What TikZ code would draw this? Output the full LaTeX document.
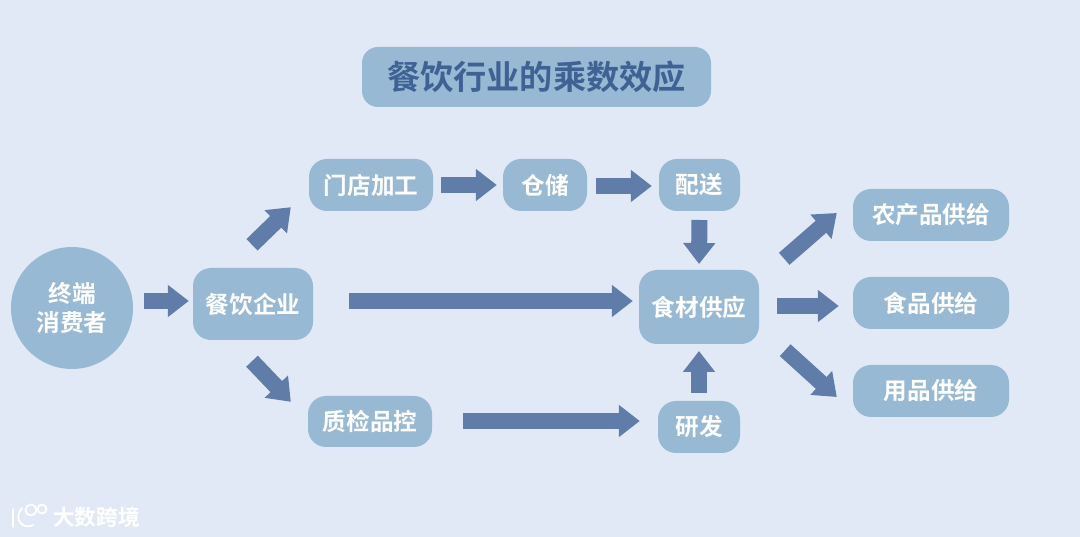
\documentclass[tikz,border=0pt]{standalone}
\usepackage{fontspec}
\setmainfont{Noto Sans CJK SC}[BoldFont={Noto Sans CJK SC Bold}]
\usetikzlibrary{arrows.meta,calc}
\definecolor{bgc}{HTML}{E1E9F6}
\definecolor{boxc}{HTML}{98B9D3}
\definecolor{arrc}{HTML}{607CA9}
\definecolor{titlec}{HTML}{3F6294}
\tikzset{
  x=1pt,y=-1pt,
  flow/.style={fill=boxc,rounded corners=#1,inner sep=0pt,text=white,font=\fontsize{23.6}{25}\selectfont\bfseries,align=center},
  flow/.default=18pt,
  barrow/.style={draw=arrc,line width=16pt,-{Triangle[width=31pt,length=21pt,fill=arrc]}},
}
\newcommand{\flowbox}[7][18pt]{\node[flow=#1,minimum width=#6pt-#4pt,minimum height=#7pt-#5pt] (#2) at ({(#4+#6)/2},{(#5+#7)/2}) {#3};}
\begin{document}
\begin{tikzpicture}
\fill[bgc] (0,0) rectangle (1080,537);
\useasboundingbox (0,0) rectangle (1080,537);
\flowbox[16pt]{title}{\textcolor{titlec}{\fontsize{33.2}{36}\selectfont 餐饮行业的乘数效应}}{362}{47}{711}{107}
\node[circle,fill=boxc,minimum size=122pt,inner sep=0pt,text=white,font=\fontsize{23.6}{29}\selectfont\bfseries,align=center] (zd) at (72,308) {\raisebox{-3pt}{\parbox{80pt}{\centering\baselineskip=29pt 终端\\消费者}}};
\flowbox{qy}{餐饮企业}{193}{268}{313}{340}
\flowbox{md}{门店加工}{309}{159}{433}{211}
\flowbox{cc}{仓储}{503}{159}{587}{211}
\flowbox{ps}{配送}{659}{159}{740}{211}
\flowbox{sc}{食材供应}{639}{270}{759}{344}
\flowbox{zj}{质检品控}{308}{396}{432}{447}
\flowbox{yf}{\raisebox{-1.5pt}{研发}}{658}{401}{740}{453}
\flowbox{ncp}{农产品供给}{853}{189}{1009}{241}
\flowbox{sp}{食品供给}{853}{277}{1009}{329}
\flowbox{yp}{用品供给}{853}{365}{1009}{417}
% connectors: node to node, ends trimmed
\draw[barrow,shorten <=11pt,shorten >=4pt] (zd.east |- 0,301) -- (qy.west |- 0,301);
\draw[barrow,shorten <=36pt,shorten >=6pt] (qy.east |- 0,301) -- (sc.west |- 0,301);
\draw[barrow,shorten <=8pt,shorten >=6pt] (md.east |- 0,185) -- (cc.west |- 0,185);
\draw[barrow,shorten <=9pt,shorten >=7pt] (cc.east |- 0,186) -- (ps.west |- 0,186);
\draw[barrow,shorten <=9pt,shorten >=6pt] (ps.south |- 0,211) -- (sc.north |- 0,270);
\draw[barrow,shorten <=8pt,shorten >=7pt] (yf.north |- 0,401) -- (sc.south |- 0,344);
\draw[barrow,shorten <=31pt,shorten >=18pt] (zj.east |- 0,421) -- (yf.west |- 0,421);
\draw[barrow] ($(qy.north)+(-1,-23)$) -- ($(md.south west)+(-18,-4)$);
\draw[barrow] ($(qy.south)+(-1,21)$) -- ($(zj.north west)+(-17,6)$);
\draw[barrow] ($(sc.north east)+(25,-11)$) -- ($(ncp.west)+(-16,-2)$);
\draw[barrow] ($(sc.east)+(18,-1)$) -- ($(sp.west)+(-14,3)$);
\draw[barrow] ($(sc.south east)+(26,6)$) -- ($(yp.west)+(-16,6)$);
% watermark
\begin{scope}[draw=white,line width=1.8pt,line cap=round]
\draw (13,509) -- (13,527);
\draw (33,525) .. controls (24,530) and (12,520) .. (22,508);
\draw (31,510) circle[radius=5.5pt];
\draw (42,509) circle[radius=4.5pt];
\end{scope}
\node[text=white,font=\fontsize{21.7}{24}\selectfont\bfseries,inner sep=0pt] (wm) at (96.5,517) {大数跨境};
\end{tikzpicture}
\end{document}
